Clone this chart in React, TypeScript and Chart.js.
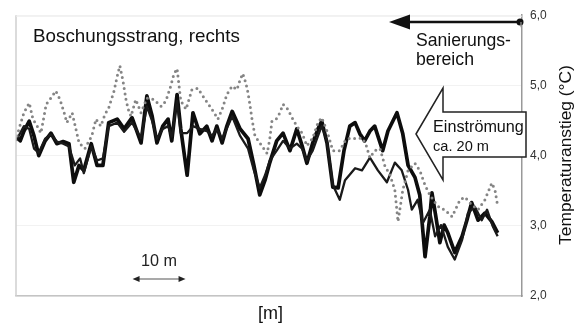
import React, { useEffect, useRef } from "react";
import { Chart, registerables } from "chart.js";

Chart.register(...registerables);

// Distance along the slope (m) and temperature rise (°C)
const thickX = [0, 0.8, 1.5, 2.5, 3.4, 4.3, 5.5, 6.6, 7.7, 8.9, 10.0, 10.9, 11.9, 12.8, 14.2, 15.3, 16.4, 17.5, 19.1, 20.4, 21.9, 23.6, 24.7, 25.7, 26.6, 27.7, 28.7, 29.4, 30.4, 31.1, 32.3, 33.4, 34.7, 36.0, 37.0, 37.9, 38.9, 39.8, 40.8, 42.3, 43.8, 44.9, 46.0, 47.0, 47.9, 49.2, 50.4, 51.7, 53.0, 54.0, 54.9, 56.0, 57.0, 57.7, 58.7, 59.8, 60.8, 61.9, 63.0, 64.0, 64.9, 65.8, 66.8, 67.7, 69.2, 70.2, 71.9, 73.0, 74.0, 75.3, 76.2, 77.2, 78.1, 78.5, 79.2, 80.0, 80.8, 81.5, 82.8, 84.2, 85.1, 86.0, 87.2, 88.5, 89.8, 90.9];
const thickY = [4.28, 4.21, 4.35, 4.49, 4.28, 4.00, 4.21, 4.32, 4.17, 4.20, 4.17, 3.62, 3.86, 3.79, 4.17, 3.86, 3.86, 4.47, 4.52, 4.38, 4.54, 4.18, 4.85, 4.56, 4.18, 4.42, 4.52, 4.21, 4.87, 4.38, 3.72, 4.61, 4.31, 4.42, 4.21, 4.42, 4.18, 4.42, 4.63, 4.38, 4.24, 3.86, 3.44, 3.65, 3.90, 4.21, 4.32, 4.07, 4.38, 4.14, 3.89, 4.18, 4.38, 4.49, 4.18, 3.55, 3.54, 4.07, 4.42, 4.47, 4.31, 4.21, 4.35, 4.42, 4.07, 4.35, 4.61, 4.31, 3.86, 3.69, 3.44, 2.56, 3.13, 3.47, 3.15, 2.76, 3.01, 2.90, 2.62, 2.85, 3.08, 3.33, 3.08, 3.18, 3.06, 2.90];

const thinX = [0, 0.8, 1.5, 2.5, 3.4, 4.3, 5.5, 6.6, 7.7, 8.9, 10.0, 11.1, 12.1, 12.8, 14.2, 15.3, 16.4, 17.5, 19.1, 20.4, 21.9, 23.6, 24.7, 25.7, 26.6, 27.7, 28.7, 29.4, 30.4, 31.1, 32.3, 33.4, 34.7, 36.0, 37.0, 37.9, 38.9, 39.8, 40.8, 42.3, 43.8, 44.9, 46.0, 47.0, 47.9, 49.2, 50.4, 51.7, 53.0, 54.0, 54.9, 56.0, 57.0, 57.7, 58.7, 59.8, 61.1, 62.1, 64.0, 65.3, 66.8, 68.3, 70.0, 71.5, 72.8, 74.0, 74.7, 75.8, 76.8, 78.1, 79.1, 80.2, 81.5, 82.8, 84.2, 85.3, 86.6, 87.9, 88.9, 90.0, 90.9];
const thinY = [4.21, 4.32, 4.42, 4.38, 4.10, 4.04, 4.24, 4.30, 4.20, 4.17, 4.13, 3.86, 3.96, 3.75, 4.13, 3.93, 3.96, 4.42, 4.47, 4.34, 4.47, 4.25, 4.70, 4.49, 4.24, 4.38, 4.42, 4.27, 4.78, 4.32, 4.32, 4.42, 4.38, 4.35, 4.28, 4.38, 4.24, 4.39, 4.56, 4.28, 4.10, 3.79, 3.54, 3.72, 3.93, 4.07, 4.21, 4.10, 4.17, 4.10, 3.93, 4.07, 4.28, 4.42, 4.21, 3.58, 3.37, 3.65, 3.82, 3.79, 3.97, 3.79, 3.62, 3.90, 3.79, 3.51, 3.23, 3.37, 3.04, 3.23, 2.85, 3.01, 2.70, 2.52, 2.80, 3.18, 3.27, 3.08, 3.23, 2.99, 2.85];

const dotX = [0.2, 0.6, 1.5, 2.5, 3.2, 4.0, 4.7, 5.7, 6.6, 7.5, 8.3, 9.1, 9.6, 10.6, 11.3, 11.9, 13.0, 14.3, 15.1, 16.0, 16.8, 17.5, 18.5, 19.1, 19.6, 20.2, 20.8, 21.3, 21.7, 22.6, 23.6, 24.7, 26.0, 27.4, 28.3, 29.2, 29.8, 30.4, 31.1, 32.1, 33.2, 34.3, 35.7, 36.6, 37.4, 38.1, 38.9, 39.8, 40.8, 41.7, 42.3, 42.8, 43.4, 43.8, 44.2, 44.5, 45.1, 46.4, 47.4, 47.9, 48.3, 49.1, 49.8, 50.4, 51.3, 52.1, 53.0, 54.0, 54.9, 56.0, 57.0, 57.7, 58.7, 59.8, 61.1, 62.1, 63.0, 64.2, 65.3, 66.0, 66.8, 67.7, 68.7, 69.6, 70.6, 71.5, 72.1, 73.0, 74.0, 75.3, 76.2, 77.2, 78.1, 79.1, 80.0, 80.9, 82.3, 83.8, 84.7, 86.0, 87.2, 88.5, 89.8, 90.4, 90.8];
const dotY = [4.28, 4.39, 4.61, 4.75, 4.52, 4.42, 4.32, 4.73, 4.82, 4.92, 4.80, 4.61, 4.47, 4.61, 4.38, 4.18, 4.10, 4.28, 4.52, 4.42, 4.59, 4.68, 4.92, 5.13, 5.28, 5.06, 4.78, 4.63, 4.56, 4.80, 4.61, 4.82, 4.80, 4.70, 4.78, 4.99, 5.16, 5.24, 4.78, 4.66, 4.94, 4.96, 4.80, 4.70, 4.61, 4.52, 4.66, 4.87, 4.99, 4.94, 5.08, 5.17, 5.03, 4.89, 4.70, 4.54, 4.28, 4.14, 4.03, 4.24, 4.49, 4.52, 4.61, 4.73, 4.66, 4.54, 4.42, 4.32, 4.14, 4.25, 4.47, 4.54, 4.35, 4.07, 4.07, 4.21, 4.25, 4.24, 4.25, 4.17, 3.97, 4.07, 4.10, 3.86, 3.72, 3.51, 3.06, 3.51, 3.79, 3.89, 3.79, 3.58, 3.44, 3.33, 3.25, 3.23, 3.13, 3.37, 3.41, 3.30, 3.23, 3.37, 3.61, 3.51, 3.33];

const yTickValues = [2, 3, 4, 5, 6];
const xMin = 0;
const xMax = 95.5;
const scaleBarFrom = 22;
const scaleBarTo = 32;

const FONT = '"Liberation Sans", Arial, Helvetica, sans-serif';

function pts(xs: number[], ys: number[]) {
  return xs.map((x, i) => ({ x, y: ys[i] }));
}

function fitText(ctx: CanvasRenderingContext2D, text: string, left: number, cy: number, width: number, weight = "normal") {
  ctx.font = `${weight} 100px ${FONT}`;
  const w = ctx.measureText(text).width;
  const size = (100 * width) / w;
  ctx.font = `${weight} ${size.toFixed(2)}px ${FONT}`;
  ctx.textBaseline = "middle";
  ctx.textAlign = "left";
  ctx.fillText(text, left, cy);
}

export default function App() {
  const ref = useRef<HTMLCanvasElement>(null);

  useEffect(() => {
    document.body.style.margin = "0";
    const annot = {
      id: "annot",
      afterDatasetsDraw(chart: any) {
        const { ctx, chartArea: ca, scales } = chart;
        const xs = scales.x;
        ctx.save();
        // faint left / top frame
        ctx.strokeStyle = "#cfcfcf";
        ctx.lineWidth = 1.5;
        ctx.beginPath();
        ctx.moveTo(ca.left, ca.top);
        ctx.lineTo(ca.left, ca.bottom);
        ctx.stroke();
        ctx.strokeStyle = "#ececec";
        ctx.lineWidth = 1;
        ctx.beginPath();
        ctx.moveTo(ca.left, ca.top + 1);
        ctx.lineTo(ca.right, ca.top + 1);
        ctx.stroke();

        ctx.fillStyle = "#111";
        fitText(ctx, "Boschungsstrang, rechts", 33, 37, 207);

        // Sanierungsbereich arrow
        const ay = 22;
        ctx.strokeStyle = "#111";
        ctx.lineWidth = 2.5;
        ctx.beginPath();
        ctx.moveTo(ca.right - 2, ay);
        ctx.lineTo(404, ay);
        ctx.stroke();
        ctx.fillStyle = "#111";
        ctx.beginPath();
        ctx.moveTo(389, ay);
        ctx.lineTo(410, ay - 7.5);
        ctx.lineTo(410, ay + 7.5);
        ctx.closePath();
        ctx.fill();
        ctx.beginPath();
        ctx.arc(ca.right - 2, ay, 3.5, 0, Math.PI * 2);
        ctx.fill();
        ctx.strokeStyle = "#999";
        ctx.lineWidth = 1.2;
        ctx.beginPath();
        ctx.moveTo(ca.right - 1, ay);
        ctx.lineTo(ca.right - 1, ca.top + 12);
        ctx.stroke();

        ctx.fillStyle = "#111";
        fitText(ctx, "Sanierungs-", 416, 41, 95);
        fitText(ctx, "bereich", 416, 60, 58);

        // hollow arrow
        ctx.beginPath();
        ctx.moveTo(416, 134);
        ctx.lineTo(443, 88);
        ctx.lineTo(443, 112);
        ctx.lineTo(526, 112);
        ctx.lineTo(526, 157);
        ctx.lineTo(443, 157);
        ctx.lineTo(443, 180);
        ctx.closePath();
        ctx.fillStyle = "#fff";
        ctx.fill();
        ctx.strokeStyle = "#222";
        ctx.lineWidth = 1.5;
        ctx.stroke();
        ctx.fillStyle = "#111";
        fitText(ctx, "Einströmung", 433, 128, 91);
        fitText(ctx, "ca. 20 m", 433, 147, 56);

        // 10 m scale bar
        const sx0 = xs.getPixelForValue(scaleBarFrom);
        const sx1 = xs.getPixelForValue(scaleBarTo);
        const sy = 279;
        ctx.strokeStyle = "#555";
        ctx.lineWidth = 1.2;
        ctx.beginPath();
        ctx.moveTo(sx0 + 5, sy);
        ctx.lineTo(sx1 - 5, sy);
        ctx.stroke();
        ctx.fillStyle = "#222";
        ctx.beginPath();
        ctx.moveTo(sx0, sy);
        ctx.lineTo(sx0 + 7, sy - 3);
        ctx.lineTo(sx0 + 7, sy + 3);
        ctx.closePath();
        ctx.fill();
        ctx.beginPath();
        ctx.moveTo(sx1, sy);
        ctx.lineTo(sx1 - 7, sy - 3);
        ctx.lineTo(sx1 - 7, sy + 3);
        ctx.closePath();
        ctx.fill();
        fitText(ctx, "10 m", 141, 262, 36);

        // axis titles
        ctx.fillStyle = "#111";
        fitText(ctx, "[m]", 258, 314, 25);
        ctx.save();
        ctx.translate(566, 155);
        ctx.rotate(-Math.PI / 2);
        ctx.font = `normal 100px ${FONT}`;
        const t = "Temperaturanstieg (°C)";
        const size = (100 * 180) / ctx.measureText(t).width;
        ctx.font = `normal ${size.toFixed(2)}px ${FONT}`;
        ctx.textAlign = "center";
        ctx.textBaseline = "middle";
        ctx.fillText(t, 0, 0);
        ctx.restore();
        ctx.restore();
      },
    };

    const chart = new Chart(ref.current as HTMLCanvasElement, {
      type: "line",
      data: {
        datasets: [
          {
            data: pts(dotX, dotY),
            borderColor: "#858585",
            borderWidth: 3,
            borderDash: [0, 5.5],
            borderCapStyle: "round",
            pointRadius: 0,
            tension: 0,
          } as any,
          {
            data: pts(thinX, thinY),
            borderColor: "#1a1a1a",
            borderWidth: 2.3,
            borderJoinStyle: "round",
            pointRadius: 0,
            tension: 0,
          },
          {
            data: pts(thickX, thickY),
            borderColor: "#0d0d0d",
            borderWidth: 3.7,
            borderJoinStyle: "round",
            pointRadius: 0,
            tension: 0,
          },
        ],
      },
      options: {
        responsive: false,
        animation: false,
        devicePixelRatio: 1,
        layout: { padding: { left: 16, top: 13, right: 0, bottom: 0 } },
        plugins: { legend: { display: false }, tooltip: { enabled: false } },
        scales: {
          x: {
            type: "linear",
            min: xMin,
            max: xMax,
            grid: { display: false },
            ticks: { display: false },
            border: { color: "#c4c4c4", width: 1.5 },
            afterFit: (s: any) => {
              s.height = 30;
            },
          },
          y: {
            position: "right",
            min: 2,
            max: 6,
            afterBuildTicks: (s: any) => {
              s.ticks = yTickValues.map((v) => ({ value: v }));
            },
            ticks: {
              color: "#333",
              padding: 8,
              font: { family: FONT, size: 12 },
              callback: (v: any) => Number(v).toFixed(1).replace(".", ","),
            },
            grid: { color: "rgba(0,0,0,0.05)", drawTicks: false },
            border: { color: "#999", width: 1.5 },
            afterFit: (s: any) => {
              s.width = 59;
            },
          },
        },
      },
      plugins: [annot],
    });
    return () => chart.destroy();
  }, []);

  return (
    <div style={{ width: 581, height: 326, background: "#fff" }}>
      <canvas ref={ref} width={581} height={326} />
    </div>
  );
}
